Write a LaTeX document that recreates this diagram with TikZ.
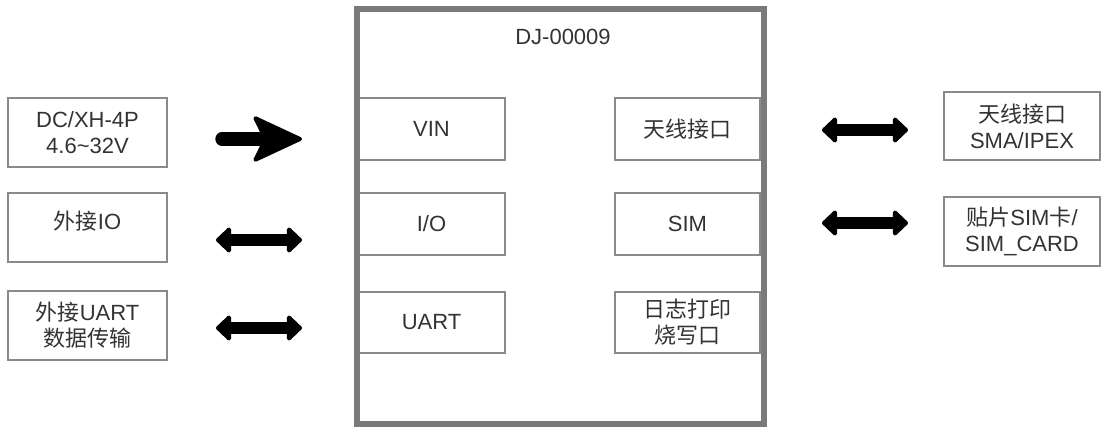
\documentclass[tikz,border=0pt]{standalone}
\usepackage{fontspec}
\setmainfont{Liberation Sans}
\newfontfamily\cjk{Noto Sans CJK SC}
\usetikzlibrary{arrows.meta}
\definecolor{boxline}{HTML}{8A8A8A}
\definecolor{mainline}{HTML}{7A7A7A}
\definecolor{txt}{HTML}{333333}
\tikzset{
  box/.style={draw=boxline, line width=1.1pt, fill=white, inner sep=0pt, align=center,
    text=txt, font=\fontsize{16.5}{19.5}\selectfont},
  lbl/.style={text=txt, inner sep=0pt, align=center, font=\fontsize{16.5}{19.5}\selectfont},
  bigarrow/.style={line width=10pt, line cap=round, -{Stealth[length=40pt, width=37pt, inset=9pt, round, line width=3pt]}},
  dblarrow/.style={line width=9.5pt, {Triangle[length=12pt, width=22pt, round, line width=3pt]}-{Triangle[length=12pt, width=22pt, round, line width=3pt]}}
}
\begin{document}
\begin{tikzpicture}[x=0.75pt, y=-0.75pt]
\useasboundingbox (0,0) rectangle (1101,427);
% inner boxes
\node[box, minimum width=110.25pt, minimum height=46.5pt] (vin) at (431.5,129) {VIN};
\node[box, minimum width=110.25pt, minimum height=46.5pt] (io) at (431.5,224) {I/O};
\node[box, minimum width=110.25pt, minimum height=46pt] (uart) at (431.5,322.5) {UART};
\node[box, minimum width=108.75pt, minimum height=46.5pt] (ant) at (687.5,129) {{\cjk 天线接口}};
\node[box, minimum width=108.75pt, minimum height=46.5pt] (sim) at (687.5,224) {SIM};
\node[box, minimum width=108.75pt, minimum height=46pt] (log) at (687.5,322.5) {{\cjk 日志打印}\\{\cjk 烧写口}};
% main box
\node[draw=mainline, line width=4.5pt, minimum width=305.25pt, minimum height=311.6pt, inner sep=0pt] (main) at (560,216.25) {};
\node[lbl] (title) at (563,37) {DJ-00009};
% external boxes
\node[box, minimum width=119.25pt, minimum height=51.75pt] (dc) at (87.5,132.5) {DC/XH-4P\\4.6\char`~32V};
\node[box, minimum width=119.25pt, minimum height=51.75pt] (extio) at (87.5,227.5) {};
\node[lbl, anchor=north] (extiot) at ([yshift=-14pt]extio.north) {{\cjk 外接}IO};
\node[box, minimum width=119.25pt, minimum height=51.75pt] (extuart) at (87.5,325.5) {{\cjk 外接}UART\\{\cjk 数据传输}};
\node[box, minimum width=117pt, minimum height=51pt] (sma) at (1022,126) {{\cjk 天线接口}\\SMA/IPEX};
\node[box, minimum width=117pt, minimum height=51.75pt] (simcard) at (1022,231.5) {{\cjk 贴片}SIM{\cjk 卡}/\\SIM\_CARD};
% arrow end points
\coordinate (p1) at (222,139);
\coordinate (p2) at (302,139);
\coordinate (a1) at (216,240);
\coordinate (a2) at (302,240);
\coordinate (b1) at (216,328);
\coordinate (b2) at (302,328);
\coordinate (c1) at (822,130);
\coordinate (c2) at (908,130);
\coordinate (d1) at (822,223);
\coordinate (d2) at (908,223);
\draw[bigarrow] (p1) -- (p2);
\draw[dblarrow] (a1) -- (a2);
\draw[dblarrow] (b1) -- (b2);
\draw[dblarrow] (c1) -- (c2);
\draw[dblarrow] (d1) -- (d2);
\end{tikzpicture}
\end{document}
